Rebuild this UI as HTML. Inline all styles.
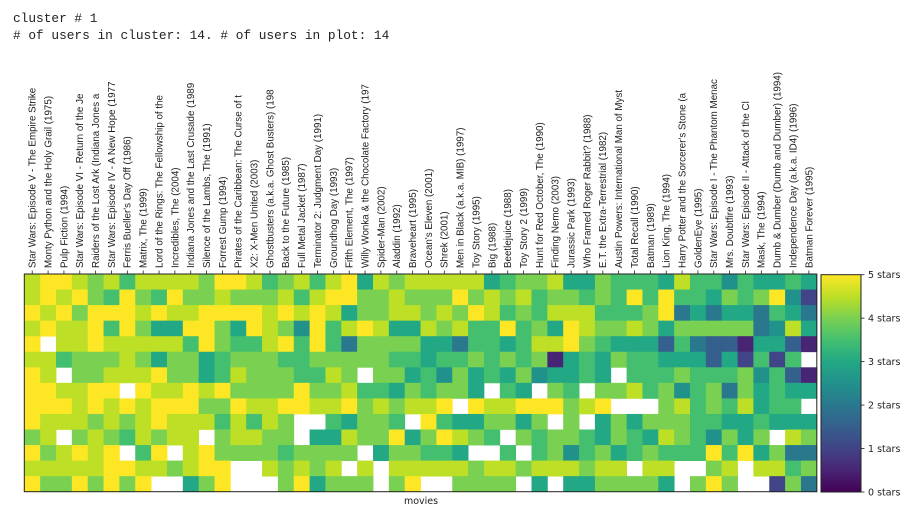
<!DOCTYPE html>
<html><head><meta charset="utf-8"><style>
html,body{margin:0;padding:0;background:#fff;width:922px;height:508px;overflow:hidden}
svg{display:block}
</style></head><body>
<svg id="chart" width="922" height="508" xmlns="http://www.w3.org/2000/svg">
<defs><linearGradient id="vir" x1="0" y1="1" x2="0" y2="0">
<stop offset="0" stop-color="#440154"/><stop offset="0.1" stop-color="#482475"/><stop offset="0.2" stop-color="#414487"/><stop offset="0.3" stop-color="#355f8d"/><stop offset="0.4" stop-color="#2a788e"/><stop offset="0.5" stop-color="#21918c"/><stop offset="0.6" stop-color="#22a884"/><stop offset="0.7" stop-color="#44bf70"/><stop offset="0.8" stop-color="#7ad151"/><stop offset="0.9" stop-color="#bddf26"/><stop offset="1" stop-color="#fde725"/>
</linearGradient></defs>
<text x="13" y="22" font-family="Liberation Mono, monospace" font-size="12.8" fill="#222">cluster # 1</text>
<text x="13" y="39" font-family="Liberation Mono, monospace" font-size="12.8" fill="#222"># of users in cluster: 14. # of users in plot: 14</text>
<g id="cells"></g>
<g id="xlabels"></g>
<rect x="24.3" y="274" width="792.5" height="217.7" fill="none" stroke="#222" stroke-width="1"/>
<text x="421" y="504" text-anchor="middle" font-family="DejaVu Sans, sans-serif" font-size="9.5" fill="#222">movies</text>
<rect x="821" y="274.7" width="40" height="217.3" fill="url(#vir)" stroke="#222" stroke-width="1"/>
<g id="cbticks"></g>
</svg>
<script>
const movies=["Star Wars: Episode V - The Empire Strike","Monty Python and the Holy Grail (1975)","Pulp Fiction (1994)","Star Wars: Episode VI - Return of the Je","Raiders of the Lost Ark (Indiana Jones a","Star Wars: Episode IV - A New Hope (1977","Ferris Bueller's Day Off (1986)","Matrix, The (1999)","Lord of the Rings: The Fellowship of the","Incredibles, The (2004)","Indiana Jones and the Last Crusade (1989","Silence of the Lambs, The (1991)","Forrest Gump (1994)","Pirates of the Caribbean: The Curse of t","X2: X-Men United (2003)","Ghostbusters (a.k.a. Ghost Busters) (198","Back to the Future (1985)","Full Metal Jacket (1987)","Terminator 2: Judgment Day (1991)","Groundhog Day (1993)","Fifth Element, The (1997)","Willy Wonka & the Chocolate Factory (197","Spider-Man (2002)","Aladdin (1992)","Braveheart (1995)","Ocean's Eleven (2001)","Shrek (2001)","Men in Black (a.k.a. MIB) (1997)","Toy Story (1995)","Big (1988)","Beetlejuice (1988)","Toy Story 2 (1999)","Hunt for Red October, The (1990)","Finding Nemo (2003)","Jurassic Park (1993)","Who Framed Roger Rabbit? (1988)","E.T. the Extra-Terrestrial (1982)","Austin Powers: International Man of Myst","Total Recall (1990)","Batman (1989)","Lion King, The (1994)","Harry Potter and the Sorcerer's Stone (a","GoldenEye (1995)","Star Wars: Episode I - The Phantom Menac","Mrs. Doubtfire (1993)","Star Wars: Episode II - Attack of the Cl","Mask, The (1994)","Dumb & Dumber (Dumb and Dumber) (1994)","Independence Day (a.k.a. ID4) (1996)","Batman Forever (1995)"];
const _=null;
const user0=[4.5,5,5,4.5,4,4.5,3.5,4.5,4.5,4.5,4.5,4,5, 5,4.5,3.5,4,4.5,3.5,4.5,5,3,4.5,4,4.5,4.5, 4.5,4.5,4.5,3,3.5,4,4,4.5,3,3,4,3.5, 3.5,3.5,3,4.5,3.5,3.5,2.5,3.5,3,3,3.5,3];
const user1=[4.5,5,4.5,5,4,3.5,5,4,3.5,5,4,4,4.5, 4,4,4,4.5,3.5,4.5,5,5,4,4,4.5,4,4, 4,5,4,4.5,4,4.5,3.5,4,4,3.5,4,3.5, 5,3.5,5,3.5,3.5,3,4,3.5,4,5,2.5,1];
const user2=[5,4.5,5,4,5,5,5,4.5,5,4.5,4.5,5,5, 5,5,4.5,5,4.5,5,4.5,3,4,4,4.5,4.5,4, 4.5,4,5,4.5,3.5,4,3.5,4.5,4.5,4.5,3.5,3.5, 3.5,4,5,2,3,2,3,3,2,3.5,3,2];
const user3=[4.5,5,4.5,4.5,5,3.5,5,4,3,3,5,5,4, 3,5,4.5,4,2.5,5,3.5,4.5,5,4.5,3,3,4.5, 4,4.5,3.5,3.5,5,3.5,4,3,5,4.5,4,4, 4.5,4,3,4,4,4,4,4,2,2.5,4.5,3];
const user4=[5,_,4.5,4.5,5,4.5,4.5,4.5,4.5,4.5,3.5,5,4, 3.5,3.5,4.5,5,3.5,5,3.5,2,4,4,4,4,3, 3,2,3.5,3.5,3,3.5,4.5,4.5,5,4,3.5,3, 3,3,1.5,3.5,2,1.5,1.5,0.5,3,3,1.5,0.5];
const user5=[4.5,4.5,3.5,4,4,4,4.5,4,3,4,4,3,3.5, 4,4,4,3.5,3.5,4,4,4,4,4,3.5,3.5,3, 3.5,3.5,4,3.5,4,3.5,4,0.5,3,3.5,3,4, 3.5,3.5,3,3,3,1.5,3,1,3.5,1,3.5,_];
const user6=[5,4.5,_,4,4,4.5,4.5,4.5,5,4,4,3,3.5, 4.5,4,4,4,3.5,3.5,4.5,4,_,4,4,3,3.5, 2.5,4,3,3.5,3,4,2.5,3,3,3.5,3,_, 3.5,3.5,3.5,4,3.5,3.5,3.5,4,2.5,3.5,1.5,0.5];
const user7=[5,5,4.5,4.5,5,5,_,5,4.5,4.5,5,4.5,5, 4,4,4,4,5,4,4,4.5,3.5,3.5,3,4,3.5, 4,4,3,_,3.5,3,_,4,3.5,_,4,4, 4.5,3.5,4,2.5,3.5,4,2,4,3,3.5,3,3];
const user8=[5,5,5,4.5,5,4.5,5,4.5,5,5,5,4,4, 5,4.5,4.5,5,5,4.5,4.5,5,4,4.5,4,4.5,4.5, 5,_,5,4.5,4.5,5,5,5,4,4.5,5,_, _,_,4,4.5,3.5,4,3.5,4.5,3,3.5,3.5,_];
const user9=[5,4.5,4.5,4.5,4,4.5,4,4.5,5,4.5,4.5,4.5,3.5, 4.5,3.5,4.5,4,_,_,3.5,3,4,4,3.5,_,5, 3.5,3,3,4,4,3,4,_,4,_,3,4, 3,4,4,4,3.5,3.5,3,3,3.5,3,3,3];
const user10=[4,4.5,_,4,4.5,4,3.5,4.5,4,4.5,4.5,_,4, 4.5,4.5,4,4,_,3,3,4.5,4,4,5,3,4, 5,4.5,4,3.5,_,4,3.5,4,4,3.5,3,4, 3.5,3,4.5,4,3.5,2.5,4,3,4,_,4.5,4];
const user11=[5,4,4.5,5,4.5,5,_,3.5,5,_,4.5,5,4, 4,4,4,3.5,4,4,4,4,_,3,4,4,3.5, 3.5,3,_,_,3.5,_,3.5,4,2.5,3.5,4,3, 3.5,4,3.5,3.5,3.5,5,3.5,5,3,4,2,2];
const user12=[4.5,4.5,4.5,4.5,4.5,5,5,4.5,4.5,4,4.5,5,5, _,_,4.5,4,4.5,4,4.5,_,4.5,_,4.5,4.5,4.5, 4.5,4.5,4,4.5,4.5,4,4.5,4.5,4.5,4,4.5,4.5, _,4.5,4.5,_,_,4,4.5,_,4.5,4.5,3.5,4];
const user13=[5,4,4,5,4,5,4,5,_,_,3,4,5, _,_,_,4,5,3,4,4,4,_,4,5,_, _,4,4,4,4,_,3,_,3,3,4,4, 4,4,3,_,4,5,4,_,_,1,4,2];
const ratings=[user0,user1,user2,user3,user4,user5,user6,user7,user8,user9,user10,user11,user12,user13];
const cbTickValues=[0,1,2,3,4,5];
const cbTickLabels=["0 stars","1 stars","2 stars","3 stars","4 stars","5 stars"];

const NS="http://www.w3.org/2000/svg";
const X0=24.3,X1=816.8,Y0=274,Y1=491.7,VMIN=0,VMAX=5;
const colW=(X1-X0)/movies.length, rowH=(Y1-Y0)/ratings.length;
const xScale=i=>X0+i*colW;
const yScale=j=>Y0+j*rowH;
const stops=["#440154","#482475","#414487","#355f8d","#2a788e","#21918c","#22a884","#44bf70","#7ad151","#bddf26","#fde725"];
function hex(c){return [1,3,5].map(k=>parseInt(c.substr(k,2),16));}
function viridis(v){let t=(v-VMIN)/(VMAX-VMIN)*(stops.length-1);t=Math.max(0,Math.min(stops.length-1,t));
 const i=Math.min(Math.floor(t),stops.length-2),f=t-i,a=hex(stops[i]),b=hex(stops[i+1]);
 return "rgb("+a.map((x,k)=>Math.round(x+(b[k]-x)*f)).join(",")+")";}
const cells=document.getElementById("cells");
ratings.forEach((row,j)=>row.forEach((v,i)=>{
 if(v===null||v===undefined) return;
 const r=document.createElementNS(NS,"rect");
 r.setAttribute("x",xScale(i));r.setAttribute("y",yScale(j));
 r.setAttribute("width",colW+0.4);r.setAttribute("height",rowH+0.4);
 r.setAttribute("fill",viridis(v));
 
 
 cells.appendChild(r);
}));
const xl=document.getElementById("xlabels");
movies.forEach((m,i)=>{
 const cx=xScale(i)+colW/2;
 const t=document.createElementNS(NS,"line");
 t.setAttribute("x1",cx);t.setAttribute("x2",cx);t.setAttribute("y1",Y0-3.5);t.setAttribute("y2",Y0);
 t.setAttribute("stroke","#222");t.setAttribute("stroke-width","0.8");
 
 
 xl.appendChild(t);
 const tx=document.createElementNS(NS,"text");
 tx.setAttribute("transform","translate("+(cx+3.4)+","+(Y0-6)+") rotate(-90)");
 tx.setAttribute("font-family","Liberation Sans, DejaVu Sans, sans-serif");
 tx.setAttribute("font-size","9.8");tx.setAttribute("fill","#222");
 tx.textContent=m;
 
 
 xl.appendChild(tx);
});
const cb=document.getElementById("cbticks");
const CB0=274.7,CB1=492;
const cbScale=v=>CB1-(v-VMIN)/(VMAX-VMIN)*(CB1-CB0);
cbTickValues.forEach((v,k)=>{
 const y=cbScale(v);
 const l=document.createElementNS(NS,"line");
 l.setAttribute("x1",861);l.setAttribute("x2",864.5);l.setAttribute("y1",y);l.setAttribute("y2",y);
 l.setAttribute("stroke","#222");l.setAttribute("stroke-width","0.8");
 
 
 cb.appendChild(l);
 const t=document.createElementNS(NS,"text");
 t.setAttribute("x",868);t.setAttribute("y",y+3.5);
 t.setAttribute("font-family","DejaVu Sans, sans-serif");t.setAttribute("font-size","9.5");t.setAttribute("fill","#222");
 t.textContent=cbTickLabels[k];
 
 
 cb.appendChild(t);
});
</script>
</body></html>
